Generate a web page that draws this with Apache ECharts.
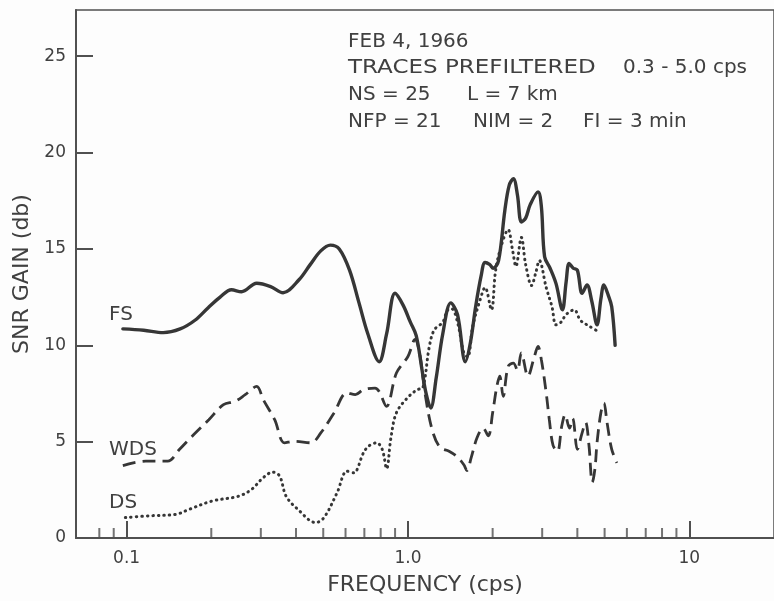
<!DOCTYPE html>
<html>
<head>
<meta charset="utf-8">
<script src="https://cdn.jsdelivr.net/npm/echarts@6/dist/echarts.min.js"></script>
<style>
  html, body { margin: 0; padding: 0; background: #fdfdfd; }
  #chart { width: 774px; height: 601px; }
</style>
</head>
<body>
<div id="chart"></div>
<script>
// frequency ticks (cps)
var tickValues = [0.1, 1, 10];
var tickLabels = ['0.1', '1.0', '10'];
var minorTicks = [0.08, 0.09, 0.2, 0.3, 0.4, 0.5, 0.6, 0.7, 0.8, 0.9,
    2, 3, 4, 5, 6, 7, 8, 9];

// FS (solid)
var fsFreq = [0.097, 0.115, 0.135, 0.155, 0.175, 0.195, 0.215, 0.236, 0.256, 0.29,
    0.325, 0.36, 0.41, 0.45, 0.49, 0.53, 0.57, 0.62, 0.67, 0.72,
    0.79, 0.84, 0.90, 0.96, 1.02, 1.07, 1.12, 1.16, 1.205, 1.26,
    1.33, 1.42, 1.5, 1.6, 1.67, 1.74, 1.82, 1.88, 1.95, 2.01,
    2.1, 2.21, 2.29, 2.37, 2.45, 2.53, 2.62, 2.72, 2.9, 2.98,
    3.06, 3.2, 3.36, 3.54, 3.65, 3.74, 3.87, 4.0, 4.16, 4.33,
    4.5, 4.7, 4.85, 4.97, 5.15, 5.3, 5.45];
var fsGain = [10.85, 10.78, 10.66, 10.85, 11.3, 11.95, 12.5, 12.88, 12.78, 13.22,
    13.05, 12.73, 13.4, 14.2, 14.9, 15.2, 15.0, 13.9, 12.2, 10.6,
    9.15, 10.6, 12.7, 12.1, 11.2, 10.5, 8.8, 7.5, 6.75, 8.3,
    10.6, 12.2, 11.6, 9.15, 10.2, 12.0, 13.6, 14.3, 14.2, 14.0,
    14.4, 17.0, 18.3, 18.65, 17.8, 16.4, 16.6, 17.3, 17.96, 17.2,
    14.6, 14.0, 13.2, 11.84, 13.3, 14.25, 14.0, 13.9, 12.7, 13.13,
    12.3, 11.06, 12.4, 13.13, 12.6, 12.0, 10.0];

// WDS (dashed)
var wdsFreq = [0.097, 0.117, 0.14, 0.154, 0.171, 0.196, 0.221, 0.243, 0.264, 0.29,
    0.306, 0.336, 0.364, 0.395, 0.452, 0.49, 0.546, 0.607, 0.65, 0.695,
    0.764, 0.79, 0.839, 0.91, 1.0, 1.06, 1.1, 1.15, 1.22, 1.3,
    1.4, 1.5, 1.58, 1.62, 1.68, 1.76, 1.85, 1.93, 2.0, 2.07,
    2.12, 2.18, 2.27, 2.37, 2.45, 2.53, 2.67, 2.8, 2.9, 2.98,
    3.1, 3.18, 3.28, 3.4, 3.52, 3.62, 3.75, 3.85, 4.0, 4.15,
    4.28, 4.4, 4.52, 4.62, 4.7, 4.85, 4.97, 5.1, 5.3, 5.53];
var wdsGain = [3.76, 3.99, 3.99, 4.59, 5.28, 6.14, 6.92, 7.09, 7.44, 7.87,
    7.18, 6.14, 4.94, 5.02, 4.94, 5.45, 6.49, 7.53, 7.44, 7.7,
    7.78, 7.6, 6.83, 8.56, 9.42, 10.3, 9.6, 7.5, 5.6, 4.7,
    4.5, 4.2, 3.8, 3.5, 4.2, 5.2, 5.7, 5.3, 6.5, 7.87,
    8.4, 7.35, 8.9, 9.08, 8.7, 9.6, 8.39, 9.3, 9.94, 9.25,
    7.53, 6.14, 4.8, 4.5, 5.8, 6.4, 5.7, 6.2, 4.6, 5.4,
    6.0, 4.8, 2.9, 3.6, 4.95, 6.5, 7.0, 6.0, 4.6, 3.9];

// DS (dotted)
var dsFreq = [0.099, 0.12, 0.15, 0.167, 0.2015, 0.25, 0.278, 0.306, 0.331, 0.35,
    0.369, 0.406, 0.47, 0.503, 0.56, 0.607, 0.641, 0.695, 0.724, 0.774,
    0.81, 0.84, 0.87, 0.91, 1.0, 1.08, 1.13, 1.19, 1.24, 1.33,
    1.38, 1.43, 1.5, 1.58, 1.63, 1.7, 1.8, 1.88, 1.98, 2.05,
    2.15, 2.27, 2.35, 2.42, 2.53, 2.62, 2.75, 2.85, 2.93, 3.1,
    3.25, 3.36, 3.5, 3.65, 3.9, 4.1, 4.4, 4.77];
var dsGain = [1.06, 1.15, 1.23, 1.49, 1.92, 2.17, 2.52, 3.13, 3.42, 3.21,
    2.17, 1.49, 0.8, 1.06, 2.35, 3.47, 3.38, 4.42, 4.76, 4.94,
    4.6, 3.6, 5.2, 6.5, 7.3, 7.7, 7.8, 9.9, 10.8, 11.2,
    11.8, 11.9, 11.2, 9.6, 9.4, 11.0, 12.3, 13.0, 11.84, 13.9,
    15.2, 16.0, 15.0, 14.1, 15.6, 14.2, 13.1, 13.8, 14.4, 13.0,
    12.0, 11.06, 11.2, 11.6, 11.84, 11.3, 11.0, 10.7];

var notes = [
    { text: 'FEB 4, 1966', x: 348, y: 42, sx: 1 },
    { text: 'TRACES PREFILTERED', x: 348, y: 68, sx: 1.15 },
    { text: '0.3 - 5.0 cps', x: 623, y: 68, sx: 1 },
    { text: 'NS = 25', x: 348, y: 95, sx: 1 },
    { text: 'L = 7 km', x: 467, y: 95, sx: 1 },
    { text: 'NFP = 21', x: 348, y: 122, sx: 1 },
    { text: 'NIM = 2', x: 473, y: 122, sx: 1 },
    { text: 'FI = 3 min', x: 583, y: 122, sx: 1 }
];
var curveNames = [
    { text: 'FS', x: 109, y: 315, sx: 1 },
    { text: 'WDS', x: 109, y: 450, sx: 1 },
    { text: 'DS', x: 109, y: 503, sx: 1 }
];

function pairs(xs, ys) {
    var out = [];
    for (var i = 0; i < xs.length; i++) out.push([xs[i], ys[i]]);
    return out;
}

var ink = '#363636';
var font = 'DejaVu Sans';

var chart = echarts.init(document.getElementById('chart'));

var graphics = [];
notes.concat(curveNames).forEach(function (n) {
    graphics.push({
        type: 'text', x: n.x, y: n.y, scaleX: n.sx, silent: true,
        style: { text: n.text, fontSize: 20, fontFamily: font, fill: '#404040', verticalAlign: 'middle' }
    });
});

chart.setOption({
    backgroundColor: '#fdfdfd',
    animation: false,
    grid: { left: 76, top: 10, right: -9, bottom: 62, show: true, borderColor: '#505050', borderWidth: 1.5 },
    xAxis: {
        type: 'log', logBase: 10, min: 0.0661, max: 20,
        name: 'FREQUENCY (cps)', nameLocation: 'middle', nameGap: 36,
        nameTextStyle: { fontSize: 22, fontFamily: font, color: '#404040' },
        axisLine: { lineStyle: { color: '#505050', width: 2 } },
        axisTick: { inside: true, length: 17, lineStyle: { color: '#505050', width: 2 } },
        axisLabel: {
            margin: 12, fontSize: 17, fontFamily: font, color: '#404040',
            showMinLabel: false, showMaxLabel: false,
            formatter: function (v) {
                for (var i = 0; i < tickValues.length; i++) {
                    if (Math.abs(v - tickValues[i]) / tickValues[i] < 1e-6) return tickLabels[i];
                }
                return '';
            }
        },
        splitLine: { show: false }
    },
    yAxis: {
        type: 'value', min: 0, max: 27.4, interval: 5,
        name: 'SNR GAIN (db)', nameLocation: 'middle', nameGap: 43,
        nameTextStyle: { fontSize: 22, fontFamily: font, color: '#404040' },
        axisLine: { show: true, lineStyle: { color: '#505050', width: 2 } },
        axisTick: { show: true, inside: true, length: 17, lineStyle: { color: '#505050', width: 2 } },
        axisLabel: { margin: 10, fontSize: 17, fontFamily: font, color: '#404040', showMaxLabel: false },
        splitLine: { show: false }
    },
    graphic: graphics,
    series: [
        {
            name: 'minor ticks', type: 'scatter', silent: true, clip: false,
            symbol: 'rect', symbolSize: [2, 10], symbolOffset: [0, -5],
            itemStyle: { color: '#505050' },
            data: minorTicks.map(function (f) { return [f, 0]; })
        },
        {
            name: 'FS', type: 'line', smooth: 0.35, showSymbol: false,
            lineStyle: { color: ink, width: 3.4, cap: 'round' },
            data: pairs(fsFreq, fsGain)
        },
        {
            name: 'WDS', type: 'line', smooth: 0.35, showSymbol: false,
            lineStyle: { color: ink, width: 2.8, type: [13, 7] },
            data: pairs(wdsFreq, wdsGain)
        },
        {
            name: 'DS', type: 'line', smooth: 0.35, showSymbol: false,
            lineStyle: { color: ink, width: 3, type: [0.5, 5], cap: 'round' },
            data: pairs(dsFreq, dsGain)
        }
    ]
});
</script>
</body>
</html>
